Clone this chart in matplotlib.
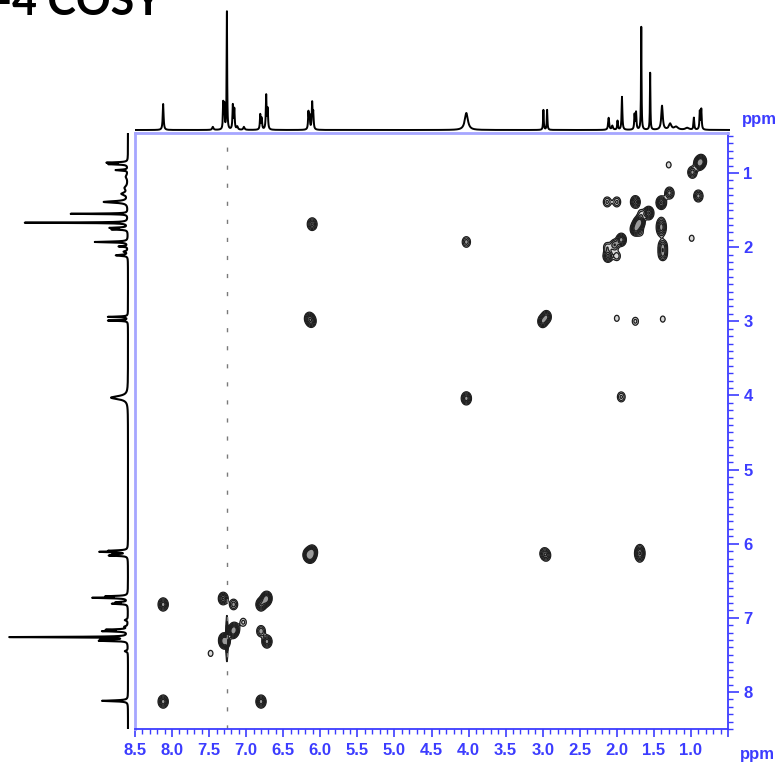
import numpy as np
import matplotlib
matplotlib.use('Agg')
import matplotlib.pyplot as plt
from matplotlib.ticker import MultipleLocator, FixedLocator

W, H = 777, 763

# 1H spectrum: shift (ppm), height, half-width (ppm)
h_shift = [8.12, 7.45, 7.31, 7.295, 7.26, 7.18, 7.16, 7.12, 7.03,
           6.81, 6.79, 6.73, 6.71, 6.16, 6.145, 6.11, 6.095, 4.03,
           2.99, 2.94, 2.11, 2.06, 1.99, 1.93, 1.76, 1.74, 1.67, 1.55,
           1.39, 1.28, 1.20, 1.05, 0.96, 0.88, 0.86]
h_height = [26, 3, 26, 24, 118, 24, 20, 3, 3,
            15, 11, 34, 20, 17, 13, 26, 16, 17,
            20, 20, 12, 4, 9, 33, 15, 17, 103, 57,
            24, 6, 3, 2, 12, 18, 20]
h_width = [0.007, 0.01, 0.005, 0.005, 0.004, 0.006, 0.006, 0.01, 0.01,
           0.006, 0.006, 0.006, 0.006, 0.006, 0.006, 0.006, 0.006, 0.025,
           0.005, 0.005, 0.008, 0.01, 0.006, 0.006, 0.006, 0.006, 0.004, 0.004,
           0.012, 0.02, 0.03, 0.03, 0.006, 0.006, 0.006]

# COSY peaks: F2 shift, F1 shift, relative intensity
cosy_f2 = [8.12, 8.12, 6.80, 7.31, 7.17, 6.80, 6.74, 6.72, 7.04, 7.18, 7.16,
           7.29, 7.30, 7.48, 6.80, 6.72,
           6.16, 6.11, 6.13, 6.11, 6.15, 6.12, 2.98, 2.95, 1.69,
           4.03, 4.03, 1.94, 3.00, 2.95, 2.00, 1.75, 1.38,
           1.30, 0.89, 0.86, 0.98, 2.13, 2.00, 1.75, 1.40, 1.29, 0.90,
           1.57, 1.69, 1.75, 1.72, 1.67, 1.40, 0.99, 1.94, 2.03, 2.13,
           2.12, 2.00, 1.38, 1.38, 1.38, 1.68]
cosy_f1 = [8.13, 6.82, 8.13, 6.74, 6.82, 6.82, 6.76, 6.73, 7.06, 7.19, 7.15,
           7.33, 7.29, 7.48, 7.18, 7.32,
           6.15, 6.11, 6.17, 1.69, 2.96, 3.00, 6.13, 6.16, 6.13,
           4.04, 1.93, 4.02, 3.00, 2.94, 2.96, 3.00, 2.97,
           0.89, 0.87, 0.84, 0.99, 1.39, 1.39, 1.39, 1.40, 1.27, 1.31,
           1.54, 1.66, 1.76, 1.70, 1.55, 1.73, 1.88, 1.90, 1.97, 2.00,
           2.12, 2.12, 1.97, 2.04, 2.11, 1.80]
cosy_amp = [0.7, 0.7, 0.7, 0.6, 0.35, 0.7, 0.7, 0.6, 0.2, 0.7, 0.7,
            0.8, 0.6, 0.15, 0.4, 0.7,
            0.9, 0.8, 0.7, 0.6, 0.5, 0.5, 0.35, 0.35, 0.8,
            0.7, 0.35, 0.3, 0.6, 0.6, 0.15, 0.2, 0.15,
            0.15, 0.8, 0.7, 0.5, 0.3, 0.3, 0.6, 0.8, 0.5, 0.5,
            0.8, 0.8, 0.7, 0.7, 0.2, 0.7, 0.15, 0.7, 0.4, 0.25,
            0.6, 0.25, 0.35, 0.35, 0.35, 0.15]
# F1 elongation of a few streaky peaks
cosy_stretch = {24: 1.3, 48: 1.5}

solvent_shift = 7.26
x_tick_labels = ['8.5', '8.0', '7.5', '7.0', '6.5', '6.0', '5.5', '5.0',
                 '4.5', '4.0', '3.5', '3.0', '2.5', '2.0', '1.5', '1.0']
y_tick_labels = ['1', '2', '3', '4', '5', '6', '7', '8']

BLUE = '#3c3cff'
LIGHT_BLUE = '#a6a6ff'
X_LIM = (8.5, 0.5)
Y_LIM = (8.5, 0.46)


def spectrum_1d(ppm):
    trace = np.zeros_like(ppm)
    for d, h, w in zip(h_shift, h_height, h_width):
        trace += h * w ** 2 / ((ppm - d) ** 2 + w ** 2)
    return trace


def cosy_map(f2, f1):
    z = np.zeros_like(f2)
    for k, (x0, y0, a) in enumerate(zip(cosy_f2, cosy_f1, cosy_amp)):
        sx = 0.035
        sy = 0.045 * cosy_stretch.get(k, 1.0)
        z += a * np.exp(-((f2 - x0) ** 2 / (2 * sx ** 2) + (f1 - y0) ** 2 / (2 * sy ** 2)))
    # t1 noise streak of the solvent line
    z += 0.5 * np.exp(-((f2 - solvent_shift) ** 2 / (2 * 0.008 ** 2)
                        + (f1 - 7.28) ** 2 / (2 * 0.18 ** 2)))
    return z


fig = plt.figure(figsize=(W / 100, H / 100), dpi=100)

# main 2D panel
ax = fig.add_axes([135 / W, (H - 729) / H, 593 / W, 596 / H])
grid = np.arange(0.4, 8.6, 0.008)
f2, f1 = np.meshgrid(grid, grid)
z = cosy_map(f2, f1)
ax.contourf(f2, f1, z, levels=[0.1, 0.3, 10], colors=['#d8d8d8', '#9a9a9a'])
ax.contour(f2, f1, z, levels=[0.1, 0.17, 0.27, 0.4, 0.55, 0.75],
           colors='#1e1e1e', linewidths=0.9)
ax.axvline(solvent_shift, color='#7a7a7a', lw=1.0, ls=(0, (3, 10)))
ax.set_xlim(*X_LIM)
ax.set_ylim(*Y_LIM)

for side in ['left', 'top']:
    ax.spines[side].set_color(LIGHT_BLUE)
    ax.spines[side].set_linewidth(2)
for side in ['right', 'bottom']:
    ax.spines[side].set_color(BLUE)
    ax.spines[side].set_linewidth(1.3)

ax.xaxis.set_major_locator(FixedLocator([float(t) for t in x_tick_labels] + [0.5]))
ax.set_xticklabels(x_tick_labels + [''])
ax.xaxis.set_minor_locator(MultipleLocator(0.1))
ax.yaxis.tick_right()
ax.yaxis.set_major_locator(FixedLocator([float(t) for t in y_tick_labels]))
ax.set_yticklabels(y_tick_labels)
ax.yaxis.set_minor_locator(MultipleLocator(0.1))
ax.tick_params(axis='both', which='major', direction='out', color=BLUE,
               labelcolor=BLUE, labelsize=12, width=1.2)
ax.tick_params(axis='x', which='major', length=6, pad=4)
ax.tick_params(axis='y', which='major', length=8, pad=3)
ax.tick_params(axis='both', which='minor', direction='out', color=BLUE,
               length=3.5, width=1.0)
for lab in ax.get_xticklabels() + ax.get_yticklabels():
    lab.set_fontfamily('Liberation Sans')
    lab.set_fontweight('bold')

ppm = np.linspace(0.4, 8.6, 8200)
trace = spectrum_1d(ppm)

# projection on top
ax_top = fig.add_axes([135 / W, (H - 131) / H, 595 / W, 131 / H])
ax_top.plot(ppm, trace, color='black', lw=1.4)
ax_top.set_xlim(8.5, 8.5 - 595 / 593 * 8.0)
ax_top.set_ylim(-1, 130)
ax_top.axis('off')

# projection on the left side
ax_left = fig.add_axes([0, (H - 729) / H, 130 / W, 596 / H])
ax_left.plot(trace, ppm, color='black', lw=1.5)
ax_left.set_xlim(128, -2)
ax_left.set_ylim(*Y_LIM)
ax_left.axis('off')

fig.text(742 / W, 1 - 124 / H, 'ppm', color=BLUE, fontsize=12, fontweight='bold',
         family='Liberation Sans', va='baseline', ha='left')
fig.text(740 / W, 1 - 759 / H, 'ppm', color=BLUE, fontsize=12, fontweight='bold',
         family='Liberation Sans', va='baseline', ha='left')
fig.text(-4 / W, 1 - 15 / H, '-4 COSY', color='black', fontsize=31,
         fontweight='bold', family='Lato', va='baseline', ha='left')

fig.savefig('out.png', dpi=100, facecolor='white')
